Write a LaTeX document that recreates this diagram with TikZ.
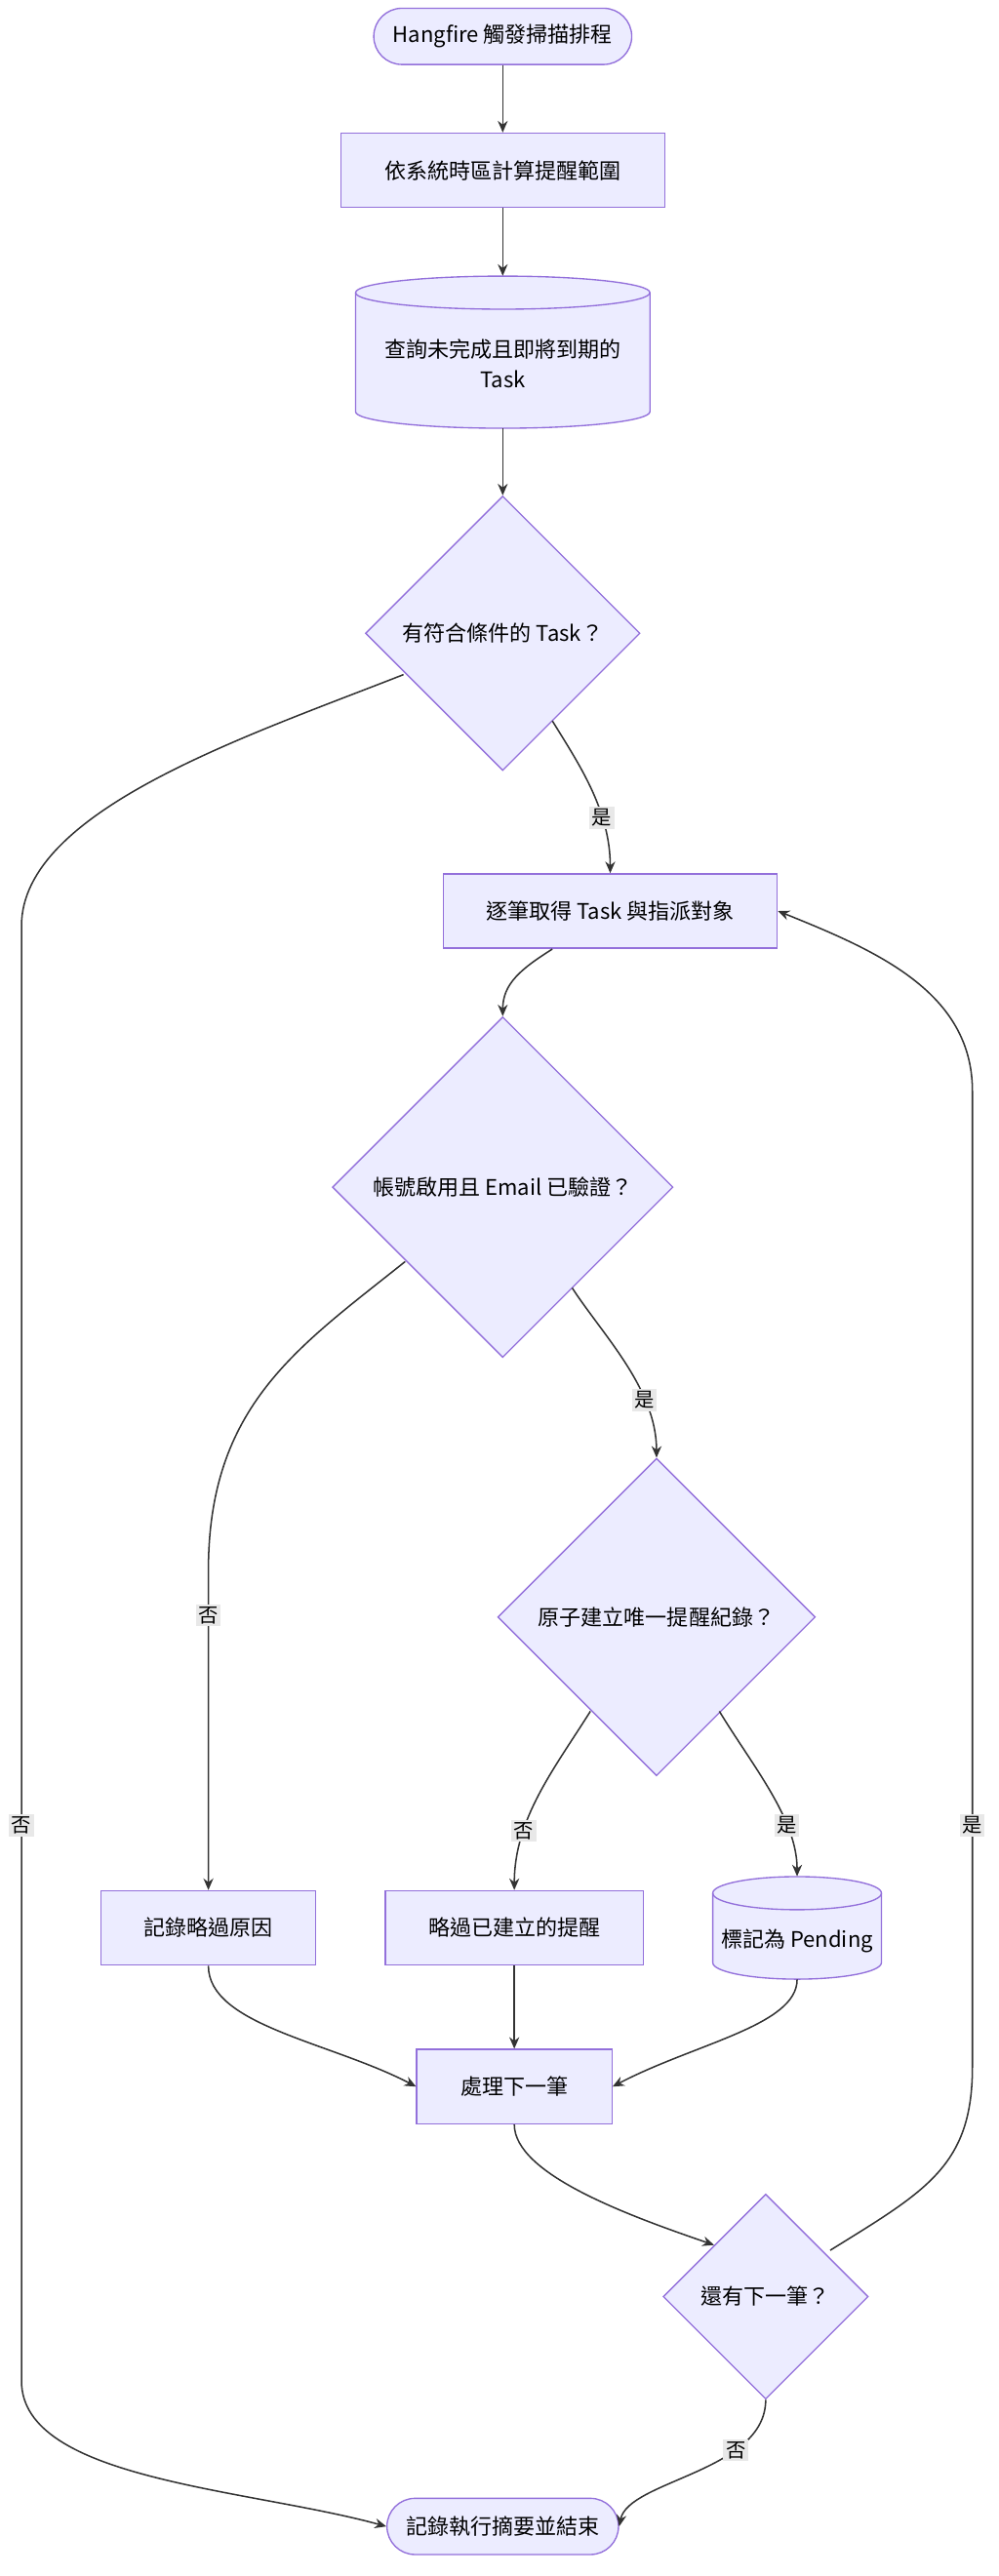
\documentclass[tikz,border=0pt]{standalone}
\usepackage{fontspec}
\setmainfont{Noto Sans CJK TC}
\usetikzlibrary{shapes.geometric,arrows.meta}
\definecolor{fillc}{HTML}{ECECFF}
\definecolor{strokec}{HTML}{9370DB}
\definecolor{linec}{HTML}{333333}
\definecolor{lblc}{HTML}{E8E8E8}
\begin{document}
\begin{tikzpicture}[x=1pt,y=-1pt,
  font=\fontsize{13}{18}\selectfont,
  box/.style={draw=strokec,fill=fillc,line width=0.8pt,minimum height=45pt,inner sep=0pt,align=center},
  term/.style={box,rounded corners=17pt,minimum height=34pt},
  dia/.style={draw=strokec,fill=fillc,line width=0.8pt,diamond,inner sep=0pt,minimum width=#1,minimum height=#1},
  ghost/.style={inner sep=0pt,align=center},
  arr/.style={draw=linec,line width=0.9pt,-{Stealth[length=7pt,width=6pt]}},
  lbl/.style={fill=lblc,inner sep=1.5pt,font=\fontsize{12}{14}\selectfont}]
\useasboundingbox (0,0) rectangle (604,1558);
\fill[white] (0,0) rectangle (604,1558);
\newcommand{\mycyl}[5]{% name,cx,cy,w,h
  \pgfmathsetmacro{\rx}{#4/2}\pgfmathsetmacro{\hh}{#5/2}
  \filldraw[draw=strokec,fill=fillc,line width=0.8pt]
    (#2-\rx,#3-\hh+10) -- (#2-\rx,#3+\hh-10) arc[start angle=180,end angle=0,x radius=\rx,y radius=10]
    -- (#2+\rx,#3-\hh+10) arc[start angle=0,end angle=-180,x radius=\rx,y radius=10] -- cycle;
  \draw[strokec,line width=0.8pt] (#2-\rx,#3-\hh+10) arc[start angle=180,end angle=0,x radius=\rx,y radius=10];
  \node[ghost,minimum width=#4pt,minimum height=#5pt] (#1) at (#2,#3) {};}
\node[term,minimum width=156pt] (s) at (304,22) {Hangfire 觸發掃描排程};
\node[box,minimum width=196pt] (r1) at (304,103) {依系統時區計算提醒範圍};
\mycyl{q}{304}{213}{178}{92}
\node[ghost] at (304,220) {查詢未完成且即將到期的\\Task};
\node[dia=166pt] (d1) at (304,383) {};
\node at (304,383) {有符合條件的 Task？};
\node[box,minimum width=202pt] (r2) at (369,551) {逐筆取得 Task 與指派對象};
\node[dia=206pt] (d2) at (304,718) {};
\node at (304,718) {帳號啟用且 Email 已驗證？};
\node[dia=192pt] (d3) at (397,978) {};
\node at (397,978) {原子建立唯一提醒紀錄？};
\node[box,minimum width=130pt] (k1) at (126,1166) {記錄略過原因};
\node[box,minimum width=156pt] (k2) at (311,1166) {略過已建立的提醒};
\mycyl{pd}{482}{1166}{102}{62}
\node at (482,1174) {標記為 Pending};
\node[box,minimum width=118pt] (n) at (311,1262) {處理下一筆};
\node[dia=124pt] (d4) at (463,1389) {};
\node at (463,1389) {還有下一筆？};
\node[term,minimum width=140pt] (e) at (304,1528) {記錄執行摘要並結束};
% edges
\draw[arr] (s) -- (r1);
\draw[arr] (r1) -- (q);
\draw[arr] (q) -- (d1);
\draw[arr] (334,436) .. controls (350,462) and (369,490) .. (r2.north) node[lbl,pos=0.68] {是};
\draw[arr] (244,408) .. controls (150,445) and (13,490) .. (13,560) -- (13,1440)
  .. controls (13,1500) and (150,1505) .. (e.west) ;
\node[lbl] at (13,1104) {否};
\draw[arr] (334,574) .. controls (315,586) and (304,595) .. (d2.north);
\draw[arr] (245,763) .. controls (180,815) and (126,850) .. (126,950) -- (k1.north);
\node[lbl] at (126,977) {否};
\draw[arr] (346,779) .. controls (365,808) and (397,840) .. (d3.north) node[lbl,pos=0.7] {是};
\draw[arr] (357,1035) .. controls (335,1070) and (311,1100) .. (k2.north) node[lbl,pos=0.7] {否};
\draw[arr] (435,1035) .. controls (455,1068) and (482,1100) .. (pd.north) node[lbl,pos=0.7] {是};
\draw[arr] (k1.south) .. controls (126,1225) and (200,1235) .. (n.west);
\draw[arr] (k2) -- (n);
\draw[arr] (pd.south) .. controls (482,1225) and (420,1236) .. (n.east);
\draw[arr] (n.south) .. controls (311,1315) and (380,1340) .. (d4.north west);
\draw[arr] (502,1361) .. controls (560,1325) and (588,1310) .. (588,1250) -- (588,660)
  .. controls (588,600) and (530,575) .. (r2.east);
\node[lbl] at (588,1104) {是};
\draw[arr] (d4.south) .. controls (463,1495) and (380,1500) .. (e.east) node[lbl,pos=0.3] {否};
\end{tikzpicture}
\end{document}
